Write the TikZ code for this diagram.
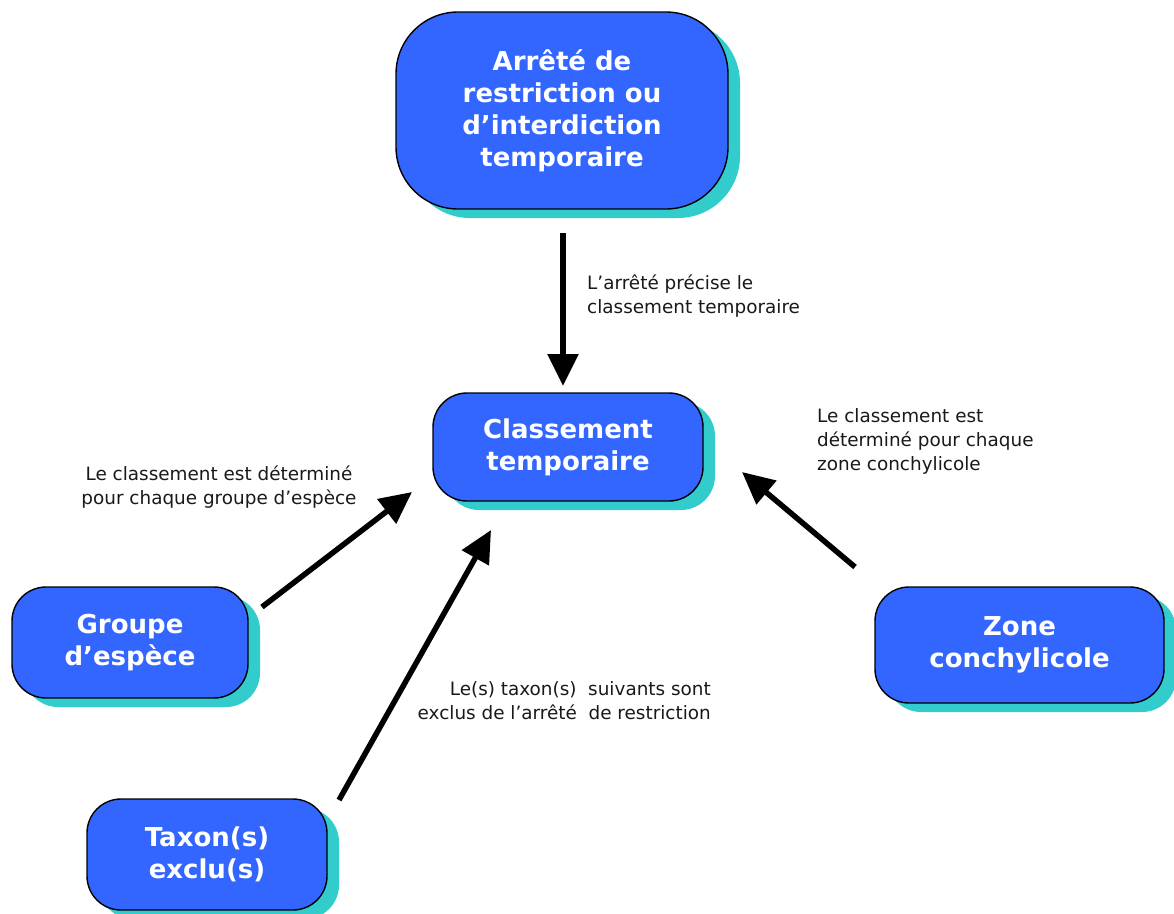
\documentclass[tikz,border=0pt]{standalone}
\usepackage{fontspec}
\setmainfont{DejaVu Sans}
\usetikzlibrary{arrows.meta,shadows}
\definecolor{boxblue}{HTML}{3366FF}
\definecolor{shadowcyan}{HTML}{33CCCC}
\tikzset{
  box/.style={draw=black, line width=1.4pt, fill=boxblue, text=white,
    font=\fontsize{26}{32}\selectfont\bfseries, align=center, inner sep=0pt,
    rounded corners=34pt,
    drop shadow={fill=shadowcyan, opacity=1, shadow xshift=12pt, shadow yshift=-9pt}},
  lbl/.style={font=\fontsize{18.4}{24}\selectfont, text=black!90, inner sep=0pt},
  conn/.style={line width=5.5pt, -{Triangle[length=32pt,width=30pt]}}
}
\begin{document}
\begin{tikzpicture}[x=1pt,y=-1pt]
\useasboundingbox (0,0) rectangle (1174,913);
\node[box, rounded corners=62pt, minimum width=332pt, minimum height=197pt] (arr) at (562,110.5)
  {Arrêté de\\restriction ou\\d’interdiction\\temporaire};
\node[box, minimum width=270pt, minimum height=108pt] (cls) at (568,447)
  {Classement\\temporaire};
\node[box, minimum width=236pt, minimum height=111pt] (grp) at (130,642.5)
  {Groupe\\d’espèce};
\node[box, minimum width=240pt, minimum height=111pt] (tax) at (207,854.5)
  {Taxon(s)\\exclu(s)};
\node[box, minimum width=289pt, minimum height=116pt] (zon) at (1019.5,645)
  {Zone\\conchylicole};

\coordinate (a1s) at (563,233);
\coordinate (a1e) at (563,386);
\coordinate (a2s) at (262,607);
\coordinate (a2e) at (412,492);
\coordinate (a3s) at (339,800);
\coordinate (a3e) at (491,530);
\coordinate (a4s) at (855,567);
\coordinate (a4e) at (742,472);
\draw[conn] (a1s) -- (a1e);
\draw[conn] (a2s) -- (a2e);
\draw[conn] (a3s) -- (a3e);
\draw[conn] (a4s) -- (a4e);

\node[lbl, anchor=west, align=left] (l1) at (587,296)
  {L’arrêté précise le\\classement temporaire};
\node[lbl, anchor=west, align=left] (l2) at (817,441)
  {Le classement est\\déterminé pour chaque\\zone conchylicole};
\node[lbl, align=center] (l3) at (219,487)
  {Le classement est déterminé\\pour chaque groupe d’espèce};
\node[lbl, anchor=east, align=right] (l4) at (711,701)
  {Le(s) taxon(s)\ \ suivants sont\\exclus de l’arrêté\ \ de restriction};
\end{tikzpicture}
\end{document}
